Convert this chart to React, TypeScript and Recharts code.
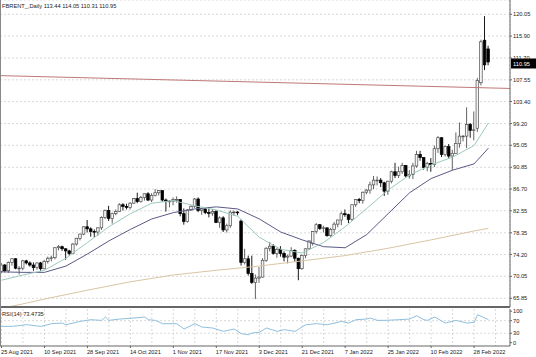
import React from 'react';
import { ComposedChart, Bar, Line, XAxis, YAxis, CartesianGrid, ReferenceLine } from 'recharts';

const symbolTitle = 'FBRENT_,Daily  113.44 114.05 110.31 110.95';
const rsiTitle = 'RSI(14) 73.4735';

const dateLabels = ['25 Aug 2021', '10 Sep 2021', '28 Sep 2021', '14 Oct 2021', '1 Nov 2021', '17 Nov 2021', '3 Dec 2021', '21 Dec 2021', '7 Jan 2022', '25 Jan 2022', '10 Feb 2022', '28 Feb 2022'];
const gridBars = [0, 6, 12, 18, 24, 30, 36, 42, 48, 54, 60, 66, 72, 78, 84, 90, 96, 102, 108, 114, 120, 126, 132, 138];
const priceTicks = [120.05, 115.9, 111.7, 107.55, 103.4, 99.2, 95.05, 90.85, 86.7, 82.55, 78.35, 74.2, 70.05, 65.85];
const rsiTicks = [100, 70, 30, 0];
const rsiLevels = [70, 30];

const opens = [71.0, 72.2, 71.1, 72.7, 73.4, 71.6, 71.6, 73.0, 72.6, 72.2, 71.7, 72.6, 71.5, 72.9, 73.5, 73.6, 75.5, 75.7, 75.3, 74.9,
  74.4, 76.2, 77.3, 78.1, 79.5, 79.1, 78.6, 78.5, 79.3, 81.3, 82.6, 81.1, 82.0, 82.4, 83.7, 83.4, 83.2, 84.0, 84.9, 84.3,
  85.1, 85.8, 84.6, 85.5, 86.0, 86.4, 84.6, 84.3, 84.4, 84.7, 84.7, 82.0, 80.5, 82.7, 83.4, 84.8, 82.6, 82.9, 82.2, 82.1,
  82.4, 80.3, 81.2, 78.9, 79.7, 82.3, 82.3, 80.6, 72.7, 73.4, 70.6, 68.9, 69.7, 69.9, 73.1, 75.4, 75.8, 74.4, 75.2, 74.4,
  73.7, 73.9, 75.0, 73.5, 71.5, 74.0, 75.3, 76.3, 78.6, 79.9, 79.2, 79.3, 77.8, 79.0, 80.0, 80.8, 82.0, 81.8, 80.9, 83.7,
  84.7, 84.5, 86.1, 86.5, 87.5, 88.4, 88.4, 87.9, 86.3, 88.2, 90.0, 89.3, 90.0, 91.2, 89.2, 89.5, 91.1, 93.3, 92.7, 90.8,
  91.6, 91.4, 94.4, 96.5, 93.3, 94.8, 93.0, 93.5, 95.4, 96.8, 96.8, 99.0, 97.9, 98.3, 107.0, 115.1, 113.44];
const highs = [72.6, 72.4, 72.9, 73.5, 73.5, 72.0, 73.2, 73.2, 72.9, 72.7, 72.7, 72.8, 73.2, 73.8, 74.0, 75.6, 76.0, 75.9, 75.4, 75.1,
  76.4, 77.4, 78.2, 79.6, 80.8, 79.4, 79.0, 79.4, 81.5, 82.8, 83.5, 82.2, 82.8, 84.0, 84.0, 83.9, 84.2, 85.0, 86.0, 85.4,
  85.9, 86.1, 85.9, 86.7, 86.5, 86.4, 84.9, 84.6, 85.1, 85.3, 84.8, 83.0, 82.9, 83.6, 85.0, 85.1, 83.1, 83.1, 83.2, 82.9,
  82.7, 81.5, 81.5, 80.1, 82.6, 82.6, 82.5, 80.9, 75.3, 74.0, 74.0, 70.4, 71.8, 73.5, 75.6, 76.6, 76.2, 75.5, 75.8, 74.8,
  74.2, 75.6, 75.2, 73.6, 74.2, 75.4, 76.9, 78.7, 80.2, 80.0, 79.7, 79.3, 79.3, 80.4, 80.8, 82.4, 82.8, 82.0, 83.8, 84.8,
  85.0, 86.2, 86.7, 88.1, 89.2, 89.1, 88.8, 88.1, 88.3, 90.2, 91.7, 91.0, 91.7, 91.3, 90.3, 91.7, 94.0, 94.0, 92.8, 91.9,
  92.6, 95.0, 96.8, 96.6, 95.0, 95.3, 94.2, 97.5, 99.4, 97.0, 102.3, 99.3, 101.5, 107.9, 115.2, 119.7, 114.05];
const lows = [70.6, 70.8, 70.7, 72.1, 71.4, 70.4, 71.2, 72.3, 71.9, 71.1, 71.3, 71.1, 71.4, 72.5, 72.9, 73.3, 75.0, 74.9, 73.2, 74.0,
  74.3, 75.9, 76.9, 77.9, 78.4, 77.6, 77.5, 77.8, 78.9, 81.0, 80.6, 80.1, 81.7, 82.3, 82.6, 82.8, 82.8, 83.9, 84.0, 84.1,
  84.5, 84.4, 84.2, 85.3, 85.5, 84.3, 82.4, 83.2, 83.6, 84.1, 81.5, 79.9, 80.3, 82.5, 83.1, 82.3, 81.8, 81.9, 81.3, 81.6,
  80.2, 79.3, 78.5, 78.4, 79.3, 81.6, 81.7, 72.1, 72.3, 70.2, 68.6, 65.7, 68.8, 69.8, 72.8, 74.8, 74.2, 73.6, 73.8, 72.9,
  72.5, 73.7, 72.8, 69.3, 71.3, 73.5, 75.1, 75.9, 78.2, 78.9, 78.4, 77.6, 77.6, 78.2, 79.4, 79.8, 81.4, 80.2, 80.6, 83.3,
  84.0, 83.9, 85.7, 85.8, 86.7, 87.4, 87.1, 85.4, 85.6, 87.8, 88.8, 88.8, 89.6, 88.9, 88.7, 88.6, 90.8, 92.1, 90.4, 90.1,
  90.0, 90.9, 93.6, 92.8, 92.9, 92.6, 90.3, 93.4, 94.6, 95.8, 94.5, 96.5, 96.0, 97.6, 106.5, 109.4, 110.31];
const closes = [72.2, 71.1, 72.7, 73.4, 71.6, 71.6, 73.0, 72.6, 72.2, 71.7, 72.6, 71.5, 72.9, 73.5, 73.6, 75.5, 75.7, 75.3, 74.9, 74.4,
  76.2, 77.3, 78.1, 79.5, 79.1, 78.6, 78.5, 79.3, 81.3, 82.6, 81.1, 82.0, 82.4, 83.7, 83.4, 83.2, 84.0, 84.9, 84.3, 85.1,
  85.8, 84.6, 85.5, 86.0, 86.4, 84.6, 84.3, 84.4, 84.7, 84.7, 82.0, 80.5, 82.7, 83.4, 84.8, 82.6, 82.9, 82.2, 82.1, 82.4,
  80.3, 81.2, 78.9, 79.7, 82.3, 82.3, 82.2, 72.7, 73.4, 70.6, 68.9, 69.7, 69.9, 73.1, 75.4, 75.8, 74.4, 75.2, 74.4, 73.7,
  73.9, 75.0, 73.5, 71.5, 74.0, 75.3, 76.8, 78.6, 79.9, 79.2, 79.3, 77.8, 79.0, 80.0, 80.8, 82.0, 81.8, 80.9, 83.7, 84.7,
  84.5, 86.1, 86.5, 87.5, 88.4, 88.4, 87.9, 86.3, 88.2, 90.0, 89.3, 90.0, 91.2, 89.2, 89.5, 91.1, 93.3, 92.7, 90.8, 91.6,
  91.4, 94.4, 96.5, 93.3, 94.8, 93.0, 93.5, 95.4, 96.8, 96.8, 99.0, 97.9, 98.0, 107.4, 114.8, 110.4, 110.95];

const maBars = [0, 6, 12, 18, 24, 30, 36, 42, 48, 54, 60, 66, 72, 78, 84, 90, 96, 102, 108, 114, 120, 126, 132, 136];
const maFast = [69.3, 70.3, 71.2, 73.5, 76.5, 79.5, 82.0, 84.0, 84.5, 83.5, 82.7, 81.5, 77.5, 75.2, 74.5, 76.5, 79.5, 83.0, 86.5, 89.4, 91.3, 92.8, 95.0, 99.3];
const maSlow = [70.9, 70.8, 70.8, 72.0, 74.3, 76.8, 79.0, 81.0, 82.2, 82.9, 83.3, 82.9, 81.0, 78.5, 77.0, 75.7, 75.5, 78.0, 82.0, 86.0, 88.7, 90.3, 91.5, 94.5];
const ma200Bars = [0, 12, 24, 36, 48, 60, 72, 84, 96, 108, 120, 132, 136];
const ma200 = [63.9, 65.7, 67.4, 69.0, 70.3, 71.2, 72.0, 73.0, 74.0, 75.4, 77.0, 78.7, 79.2];
const trendStart = { bar: -0.42, price: 108.35 };
const trendEnd = { bar: 142.04, price: 105.9 };

const rsiBars = [0, 3, 7, 11, 14, 17, 18, 22, 25, 28, 29, 30, 33, 37, 40, 41, 43, 45, 49, 51, 54, 56, 59, 62, 65, 67, 69, 70, 72, 74,
  77, 79, 82, 85, 88, 91, 95, 97, 99, 102, 103, 105, 107, 111, 114, 116, 118, 119, 121, 124, 127, 130, 132, 133, 135, 136];
const rsiValues = [51.8, 51.8, 57.1, 51.8, 60.3, 62.4, 57.1, 67.7, 73.0, 70.9, 81.5, 70.9, 75.1, 78.3, 81.5, 73.0, 70.9, 60.3, 60.3, 43.4,
  60.3, 49.7, 46.6, 36.0, 43.4, 28.6, 25.4, 30.7, 32.8, 46.6, 36.0, 41.3, 36.0, 57.1, 60.3, 57.1, 67.7, 62.4, 73.0, 75.1,
  78.3, 70.9, 70.9, 73.0, 75.1, 85.7, 73.0, 70.9, 81.5, 62.4, 70.9, 62.4, 64.5, 88.9, 78.3, 73.47];

type Row = { i: number; o?: number; h?: number; l?: number; c?: number; range?: [number, number]; fast?: number; slow?: number; ma200?: number; rsi?: number };

const rows: Row[] = opens.map((o, i) => ({ i, o, h: highs[i], l: lows[i], c: closes[i], range: [lows[i], highs[i]] }));
maBars.forEach((b, k) => { rows[b].fast = maFast[k]; rows[b].slow = maSlow[k]; });
ma200Bars.forEach((b, k) => { rows[b].ma200 = ma200[k]; });
const rsiRows: Row[] = opens.map((_, i) => ({ i }));
rsiBars.forEach((b, k) => { rsiRows[b].rsi = rsiValues[k]; });

const X_DOMAIN: [number, number] = [-0.42, 142.04];
const FONT = '"Liberation Sans", Arial, sans-serif';
const GRID = '#cfcfcf';
const AXIS = '#666';

const Candle = (props: any) => {
  const { x, y, width, height, payload } = props;
  if (x == null || y == null || !payload || payload.h == null) return null;
  const { o, h, l, c } = payload;
  const y1 = Math.min(y, y + height);
  const y2 = Math.max(y, y + height);
  const k = h === l ? 0 : (y2 - y1) / (h - l);
  const yo = y1 + (h - o) * k;
  const yc = y1 + (h - c) * k;
  const top = Math.min(yo, yc);
  const bot = Math.max(yo, yc);
  const cx = x + width / 2;
  const bull = c >= o;
  const col = bull ? '#505050' : '#000';
  return (
    <g>
      <line x1={cx} x2={cx} y1={y1} y2={y2} stroke={col} strokeWidth={0.9} />
      <rect x={cx - 1.3} y={top} width={2.6} height={Math.max(bot - top, 0.7)} fill={bull ? '#f4f4f4' : '#000'} stroke={col} strokeWidth={0.7} />
    </g>
  );
};

const PriceTick = (props: any) => {
  const { x, y, payload } = props;
  return (
    <text x={x} y={y + 2} fontSize={5.7} fontFamily={FONT} fill="#222" textAnchor="start">{Number(payload.value).toFixed(2)}</text>
  );
};

const RsiTick = (props: any) => {
  const { x, y, payload } = props;
  return (
    <text x={x} y={y + 2} fontSize={5.7} fontFamily={FONT} fill="#222" textAnchor="start">{payload.value}</text>
  );
};

const DateTick = (props: any) => {
  const { x, y, payload } = props;
  const v = payload.value as number;
  if (v % 12 !== 0) return null;
  const label = dateLabels[v / 12];
  if (!label) return null;
  return (
    <g>
      <line x1={x} x2={x} y1={y} y2={y + 2} stroke={AXIS} strokeWidth={1} />
      <text x={x - 0.5} y={y + 7.5} fontSize={5.7} fontFamily={FONT} fill="#222" textAnchor="start">{label}</text>
    </g>
  );
};

const PriceTag = (props: any) => {
  const vb = props.viewBox;
  if (!vb) return null;
  const x0 = vb.x + vb.width + 1;
  return (
    <g>
      <rect x={x0} y={vb.y - 3.5} width={25} height={10} fill="#000" />
      <text x={x0 + 2} y={vb.y + 4} fontSize={5.7} fontFamily={FONT} fill="#fff" textAnchor="start">{closes[closes.length - 1].toFixed(2)}</text>
    </g>
  );
};

export default function App() {
  return (
    <div style={{ position: 'absolute', left: 0, top: 0, width: 536, height: 357, background: '#fff', overflow: 'hidden' }}>
      <div style={{ position: 'absolute', left: 0, top: 0 }}>
        <ComposedChart width={536} height={309} data={rows} margin={{ top: 0, right: 0, bottom: 0, left: 0 }}>
          <CartesianGrid stroke={GRID} strokeDasharray="2 2" strokeWidth={0.8} />
          <XAxis dataKey="i" type="number" domain={X_DOMAIN} allowDataOverflow ticks={gridBars} height={2} tick={false} tickLine={false} axisLine={{ stroke: AXIS, strokeWidth: 2 }} />
          <YAxis orientation="right" width={26} type="number" domain={[64.19, 122.78]} allowDataOverflow ticks={priceTicks} interval={0} tick={<PriceTick />} tickSize={2} tickMargin={1} tickLine={{ stroke: AXIS }} axisLine={{ stroke: AXIS }} />
          <ReferenceLine segment={[{ x: trendStart.bar, y: trendStart.price }, { x: trendEnd.bar, y: trendEnd.price }]} stroke="#c07878" strokeWidth={1} ifOverflow="hidden" />
          <Line dataKey="ma200" stroke="#d8c6a4" strokeWidth={1} dot={false} connectNulls isAnimationActive={false} />
          <Line dataKey="slow" stroke="#5a5a86" strokeWidth={1} dot={false} connectNulls isAnimationActive={false} />
          <Line dataKey="fast" stroke="#9cc9c0" strokeWidth={1} dot={false} connectNulls isAnimationActive={false} />
          <Bar dataKey="range" barSize={3} shape={<Candle />} isAnimationActive={false} />
          <ReferenceLine y={closes[closes.length - 1]} stroke="none" label={<PriceTag />} />
        </ComposedChart>
      </div>
      <div style={{ position: 'absolute', left: 0, top: 309 }}>
        <ComposedChart width={536} height={48} data={rsiRows} margin={{ top: 0, right: 0, bottom: 0, left: 0 }}>
          <CartesianGrid stroke={GRID} strokeDasharray="2 2" strokeWidth={0.8} horizontal={false} />
          <XAxis dataKey="i" type="number" domain={X_DOMAIN} allowDataOverflow ticks={gridBars} interval={0} height={11} tick={<DateTick />} tickSize={0} tickMargin={0} tickLine={false} axisLine={{ stroke: AXIS }} />
          <YAxis orientation="right" width={26} type="number" domain={[-10.5, 107]} allowDataOverflow ticks={rsiTicks} interval={0} tick={<RsiTick />} tickSize={2} tickMargin={1} tickLine={{ stroke: AXIS }} axisLine={{ stroke: AXIS }} />
          {rsiLevels.map((lv) => (
            <ReferenceLine key={lv} y={lv} stroke={GRID} strokeDasharray="2 2" strokeWidth={0.8} />
          ))}
          <Line dataKey="rsi" stroke="#8fbfdf" strokeWidth={1} dot={false} connectNulls isAnimationActive={false} />
        </ComposedChart>
      </div>
      <div style={{ position: 'absolute', left: 0, top: 0, width: 1, height: 346, background: '#888' }} />
      <svg style={{ position: 'absolute', left: 0, top: 0 }} width={200} height={320}>
        <text x={2} y={7.5} fontSize={5.7} fontFamily={FONT} fill="#222">{symbolTitle}</text>
        <text x={2} y={315.5} fontSize={5.7} fontFamily={FONT} fill="#222">{rsiTitle}</text>
      </svg>
    </div>
  );
}
